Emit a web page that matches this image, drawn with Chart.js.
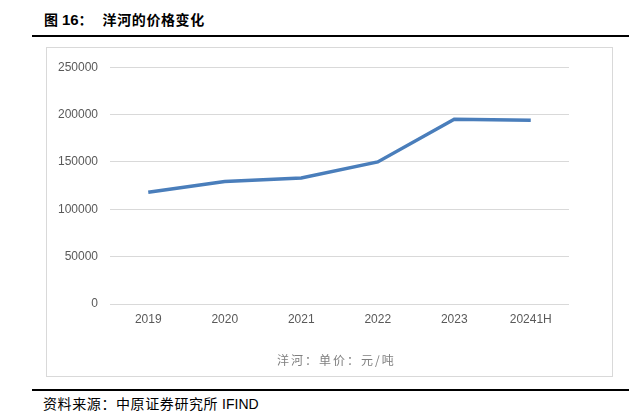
<!DOCTYPE html>
<html>
<head>
<meta charset="utf-8">
<script src="https://cdn.jsdelivr.net/npm/chart.js@4/dist/chart.umd.min.js"></script>
<style>
    body { margin: 0; background: #fff; width: 641px; height: 413px; position: relative; overflow: hidden;
           font-family: "Liberation Sans", "Noto Sans CJK SC", sans-serif; }
    #title { position: absolute; left: 44px; top: 12px; line-height: 16px; font-size: 14px; font-weight: bold; color: #000; white-space: nowrap; }
    #title .num { font-size: 15px; }
    #title .cn { margin-left: 10px; letter-spacing: 0.6px; }
    .rule { position: absolute; left: 32px; width: 597px; height: 2px; background: #000; }
    #box { position: absolute; left: 46px; top: 47px; width: 565px; height: 328px; border: 1px solid #d9d9d9; }
    #caption { position: absolute; left: 277px; top: 352px; line-height: 16px; font-size: 12px; color: #7f7f7f;
               font-family: "Noto Sans CJK SC", sans-serif; letter-spacing: 2px; white-space: nowrap; }
    #source { position: absolute; left: 43px; top: 396px; line-height: 16px; font-size: 14px; color: #000; white-space: nowrap; }
    #source .cn { letter-spacing: 0.6px; }
</style>
</head>
<body>
<div id="title">图 <span class="num">16</span>：<span class="cn">洋河的价格变化</span></div>
<div class="rule" style="top:35px"></div>
<div id="box"><canvas id="priceChart" width="565" height="328"></canvas></div>
<div id="caption">洋河：单价：元/吨</div>
<div class="rule" style="top:389px"></div>
<div id="source"><span class="cn">资料来源：中原证券研究所</span> IFIND</div>

<script>
// 洋河 price data (元/吨)
const years = ['2019', '2020', '2021', '2022', '2023', '20241H'];
const prices = [118000, 129400, 133000, 150000, 195000, 194000];
const yTicks = [0, 50000, 100000, 150000, 200000, 250000];
const seriesName = '洋河：单价：元/吨';

function createPriceChart() {
    const ctx = document.getElementById('priceChart').getContext('2d');
    new Chart(ctx, {
        type: 'line',
        data: {
            labels: years,
            datasets: [{
                label: seriesName,
                data: prices,
                borderColor: '#4a7ebb',
                borderWidth: 3.5,
                pointRadius: 0,
                tension: 0,
                fill: false
            }]
        },
        options: {
            responsive: false,
            animation: false,
            layout: { padding: { top: 19, right: 43, bottom: 42, left: 0 } },
            plugins: {
                legend: { display: false },
                tooltip: { enabled: false }
            },
            scales: {
                x: {
                    offset: true,
                    grid: { display: false, drawTicks: false },
                    border: { display: false },
                    ticks: { color: '#595959', font: { family: '"Liberation Sans", sans-serif', size: 12 }, padding: 8 },
                    afterFit: s => { s.height = 30; }
                },
                y: {
                    min: 0,
                    max: 250000,
                    afterBuildTicks: s => { s.ticks = yTicks.map(v => ({ value: v })); },
                    grid: { color: '#d9d9d9', lineWidth: 1, drawTicks: false },
                    border: { display: false },
                    ticks: {
                        color: '#595959',
                        font: { family: '"Liberation Sans", sans-serif', size: 12 },
                        padding: 12,
                        callback: v => String(v)
                    },
                    afterFit: s => { s.width = 63; }
                }
            }
        }
    });
}

document.addEventListener('DOMContentLoaded', createPriceChart);
</script>
</body>
</html>
